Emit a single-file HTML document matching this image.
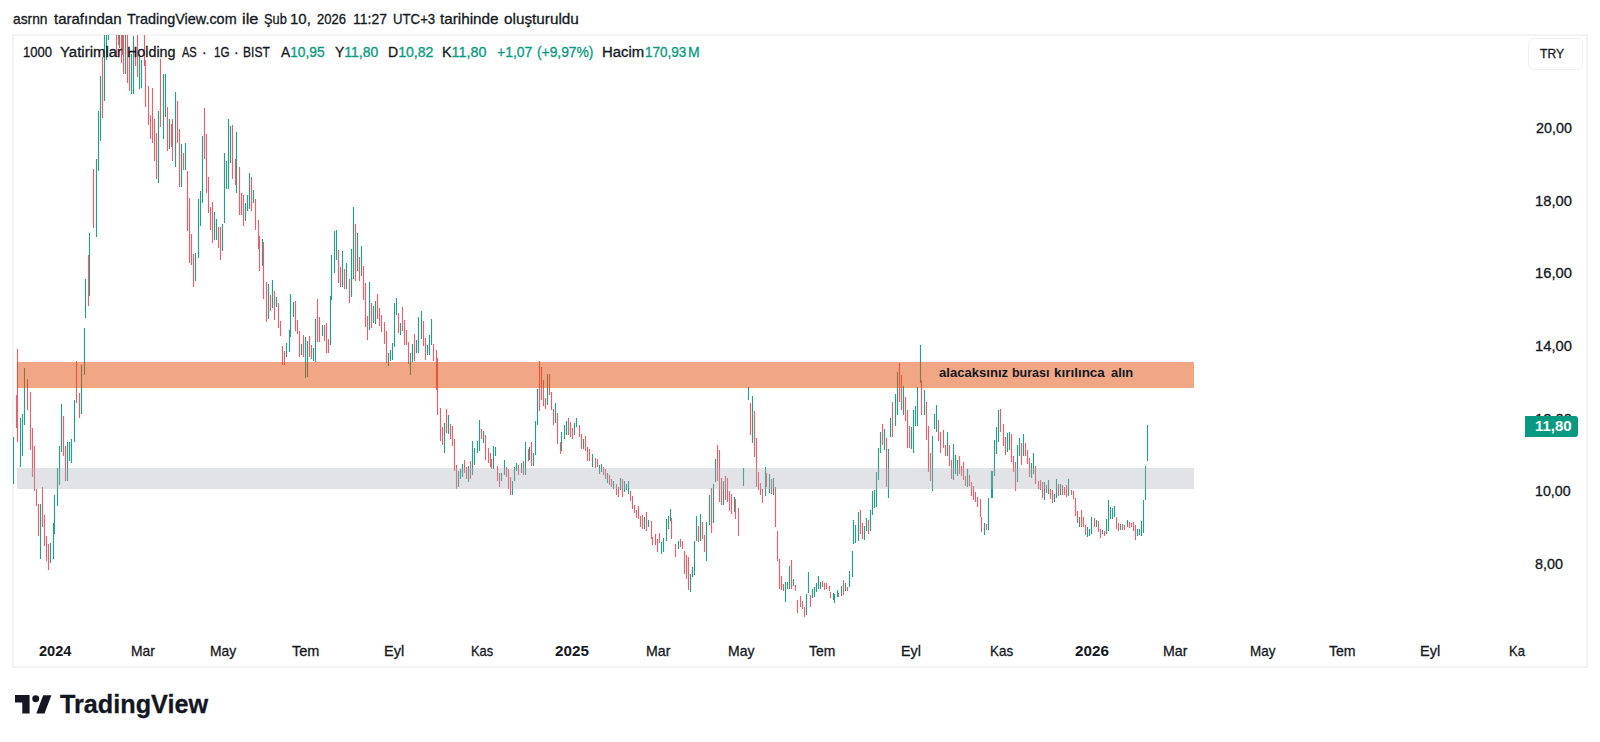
<!DOCTYPE html>
<html><head><meta charset="utf-8">
<style>
html,body{margin:0;padding:0;background:#fff;width:1600px;height:742px;overflow:hidden;}
body{position:relative;font-family:"Liberation Sans",sans-serif;color:#131722;}
.t{position:absolute;white-space:nowrap;line-height:1;-webkit-text-stroke:0.3px currentColor;}
.gr{-webkit-text-stroke:0.3px #089981;}
.gr{color:#089981;}
#box{position:absolute;left:12px;top:34px;width:1572px;height:630px;border:2px solid #f3f3f3;}
svg{position:absolute;left:0;top:0;}
#trybox{position:absolute;left:1528px;top:38px;width:55px;height:32px;border:1px solid #f0f0f0;border-radius:6px;box-sizing:border-box;}
#lbl{position:absolute;left:1525px;top:416px;width:53px;height:21px;background:#089981;border-radius:0 3px 3px 0;}
</style></head><body>
<div id="box"></div>
<svg width="1600" height="742" viewBox="0 0 1600 742">
<defs><clipPath id="cp"><rect x="13" y="35" width="1500" height="595"/></clipPath></defs>
<g clip-path="url(#cp)" stroke-width="1.15">
<path d="M13.5 437V484M20.5 418V467M22.5 414V456M24.5 368V425M40.5 504V559M50.5 543V563M53.5 523V559M54.5 495V534M57.5 468V506M59.5 446V485M61.5 404V452M67.5 442V481M69.5 442V461M71.5 439V463M74.5 400V442M81.5 365V414M84.5 328V375M85.5 279V318M89.5 233V296M96.5 159V237M98.5 111V171M100.5 76V141M104.5 34V101M106.5 10V60M108.5 -10V40M112.5 -15V28M119.5 20V48M125.5 20V74M131.5 54V94M133.5 36V94M139.5 54V89M141.5 60V88M158.5 111V183M163.5 74V139M165.5 74V117M169.5 119V149M175.5 92V167M181.5 144V187M185.5 143V170M195.5 253V281M198.5 199V258M200.5 191V226M202.5 136V203M214.5 212V240M216.5 219V240M222.5 224V251M224.5 153V223M226.5 161V189M228.5 119V189M230.5 126V163M236.5 132V193M245.5 203V221M247.5 195V211M249.5 173V209M253.5 190V203M262.5 239V266M268.5 284V319M272.5 280V308M276.5 297V307M286.5 343V357M289.5 330V352M290.5 294V337M293.5 302V317M301.5 344V355M305.5 337V378M307.5 341V377M313.5 348V361M315.5 319V362M322.5 325V336M330.5 296V345M331.5 255V300M334.5 231V273M336.5 230V260M342.5 251V287M346.5 263V289M351.5 249V297M353.5 207V279M357.5 233V271M361.5 246V276M369.5 282V330M373.5 306V323M375.5 301V324M388.5 353V366M390.5 350V361M392.5 343V360M394.5 303V347M396.5 298V315M400.5 323V335M410.5 353V375M412.5 344V362M416.5 340V353M418.5 317V353M421.5 311V339M427.5 345V355M429.5 335V355M431.5 319V345M444.5 423V453M448.5 415V434M458.5 471V487M460.5 469V479M462.5 464V477M468.5 466V482M472.5 441V475M474.5 448V465M477.5 441V453M479.5 420V451M483.5 431V443M493.5 446V469M495.5 447V456M501.5 473V481M504.5 460V475M512.5 481V495M514.5 467V481M516.5 463V471M521.5 463V473M525.5 442V475M529.5 447V460M533.5 453V466M535.5 421V455M537.5 389V425M547.5 374V405M555.5 403V423M561.5 432V451M564.5 425V439M566.5 421V435M574.5 423V435M576.5 418V427M583.5 439V449M592.5 454V467M599.5 465V474M601.5 464V472M607.5 473V483M613.5 481V489M620.5 478V490M624.5 481V492M626.5 484V490M628.5 481V494M644.5 517V529M648.5 520V527M661.5 542V554M663.5 538V552M666.5 519V541M668.5 516V529M670.5 509V521M678.5 541V549M690.5 574V592M692.5 567V577M694.5 541V575M696.5 516V541M700.5 514V541M706.5 522V561M709.5 495V525M713.5 484V523M715.5 459V482M723.5 481V505M734.5 497V512M743.5 468V486M748.5 387V400M752.5 396V443M765.5 467V496M769.5 474V493M773.5 478V495M785.5 582V602M787.5 582V589M789.5 566V589M793.5 579V586M806.5 594V615M808.5 572V593M812.5 589V598M814.5 587V597M816.5 583V592M818.5 576V589M820.5 582V589M833.5 593V600M834.5 594V603M837.5 590V597M841.5 586V596M845.5 583V591M849.5 571V587M852.5 551V577M853.5 520V544M855.5 525V543M858.5 512V541M864.5 526V540M866.5 518V531M870.5 510V531M872.5 491V515M874.5 490V508M876.5 472V507M878.5 448V480M880.5 432V453M884.5 429V450M888.5 449V498M890.5 418V437M895.5 394V426M897.5 372V415M903.5 386V415M911.5 427V449M913.5 410V453M915.5 406V426M917.5 387V426M920.5 345V383M924.5 390V415M932.5 436V491M934.5 414V429M936.5 405V432M947.5 432V456M953.5 444V480M955.5 455V474M957.5 460V476M967.5 469V487M984.5 523V535M988.5 498V530M991.5 471V498M992.5 471V498M994.5 440V476M996.5 427V454M998.5 410V442M1007.5 433V452M1009.5 432V450M1017.5 445V482M1019.5 438V456M1023.5 434V456M1031.5 463V478M1033.5 453V474M1044.5 482V500M1048.5 480V494M1054.5 494V502M1056.5 479V498M1060.5 484V495M1068.5 479V496M1079.5 517V527M1087.5 527V537M1089.5 529V536M1091.5 517V534M1096.5 520V527M1102.5 530V534M1106.5 519V534M1108.5 500V531M1110.5 507V519M1112.5 508V519M1114.5 506V517M1120.5 524V530M1127.5 520V527M1137.5 529V536M1139.5 529V535M1141.5 521V536M1143.5 500V533M1145.5 466V500M1147.5 425V461" stroke="#2b9c8a" fill="none"/>
<path d="M16.5 395V428M17.5 349V442M27.5 379V410M30.5 392V450M32.5 428V477M34.5 446V491M36.5 489V506M38.5 504V536M42.5 487V527M44.5 515V546M46.5 536V561M48.5 544V570M63.5 416V456M65.5 446V481M76.5 361V403M79.5 393V418M88.5 255V306M93.5 169V228M102.5 57V118M110.5 -20V30M114.5 -5V30M116.5 20V57M118.5 25V45M121.5 25V63M122.5 30V55M123.5 25V74M127.5 25V83M129.5 52V91M135.5 50V66M137.5 25V77M144.5 25V66M145.5 60V107M148.5 86V125M150.5 115V139M152.5 88V143M154.5 119V161M156.5 133V179M160.5 59V127M167.5 107V151M171.5 124V147M172.5 119V161M177.5 101V143M179.5 129V187M183.5 153V170M187.5 171V231M189.5 198V263M191.5 234V265M193.5 254V287M204.5 108V159M206.5 134V193M208.5 177V213M210.5 207V230M212.5 202V243M218.5 227V248M220.5 227V260M232.5 125V179M235.5 159V185M239.5 167V215M241.5 193V215M243.5 195V226M251.5 177V211M255.5 199V230M258.5 220V249M259.5 236V271M263.5 242V299M266.5 282V322M270.5 295V311M274.5 291V320M278.5 303V328M280.5 321V336M282.5 346V365M284.5 351V365M295.5 301V331M297.5 320V334M299.5 331V357M303.5 335V357M309.5 336V357M311.5 345V359M317.5 299V342M319.5 317V342M324.5 325V341M326.5 323V353M328.5 339V353M338.5 250V283M340.5 267V287M344.5 269V289M349.5 279V303M355.5 224V281M359.5 257V281M363.5 266V300M365.5 283V327M367.5 316V340M371.5 303V328M377.5 294V319M379.5 308V326M381.5 315V332M384.5 322V344M386.5 331V363M398.5 313V333M402.5 307V331M404.5 320V345M406.5 330V345M408.5 342V364M414.5 334V361M423.5 321V346M425.5 338V360M433.5 344V361M436.5 350V390M437.5 358V415M440.5 408V441M442.5 427V445M446.5 409V433M450.5 424V439M452.5 426V446M454.5 439V471M456.5 465V489M464.5 460V473M466.5 467V479M470.5 461V479M481.5 429V439M485.5 435V460M488.5 448V463M490.5 453V467M491.5 459V469M497.5 466V481M499.5 473V487M506.5 467V477M508.5 469V489M510.5 477V495M518.5 465V475M523.5 461V475M528.5 449V461M531.5 442V466M539.5 361V411M541.5 367V400M543.5 380V406M545.5 398V409M549.5 374V395M551.5 392V410M553.5 409V425M557.5 413V444M560.5 442V454M568.5 418V435M570.5 422V437M572.5 428V439M579.5 425V437M581.5 434V449M585.5 436V451M587.5 447V461M589.5 449V461M595.5 458V468M597.5 459V467M603.5 467V475M605.5 469V479M609.5 475V485M611.5 479V487M616.5 484V495M618.5 487V497M622.5 479V497M630.5 491V501M632.5 496V509M634.5 505V513M636.5 510V518M638.5 506V519M640.5 516V527M642.5 515V529M646.5 512V531M651.5 521V539M652.5 537V545M655.5 534V545M657.5 539V552M659.5 533V543M671.5 518V539M675.5 544V557M680.5 539V547M682.5 541V549M684.5 551V574M686.5 555V579M688.5 557V590M698.5 526V542M702.5 522V539M704.5 535V552M711.5 488V533M717.5 445V481M719.5 450V502M721.5 478V505M725.5 476V500M727.5 478V502M729.5 491V511M731.5 494V514M735.5 499V519M738.5 508V536M750.5 403V435M754.5 411V457M756.5 438V487M758.5 472V490M760.5 483V495M762.5 489V503M766.5 473V487M771.5 479V494M775.5 487V527M777.5 531V561M779.5 559V589M781.5 576V590M783.5 584V591M791.5 560V589M795.5 585V591M797.5 600V613M800.5 596V607M802.5 601V609M804.5 607V617M810.5 595V607M822.5 581V587M824.5 583V590M826.5 583V589M829.5 586V591M830.5 592V598M838.5 593V597M843.5 580V595M847.5 587V591M860.5 510V534M862.5 523V539M868.5 520V534M882.5 424V445M886.5 438V487M892.5 402V437M899.5 363V402M901.5 375V410M905.5 397V421M907.5 410V448M909.5 426V448M921.5 380V415M926.5 402V440M928.5 426V472M930.5 453V481M938.5 420V441M940.5 432V453M943.5 430V448M945.5 445V456M949.5 445V466M951.5 460V479M959.5 456V474M961.5 466V476M963.5 462V480M965.5 476V486M969.5 475V486M971.5 482V496M973.5 486V500M975.5 492V502M977.5 497V507M980.5 499V517M981.5 517V532M986.5 524V530M1000.5 409V432M1003.5 424V446M1005.5 437V455M1011.5 434V462M1013.5 456V472M1015.5 462V491M1021.5 443V465M1025.5 443V456M1027.5 450V464M1029.5 458V477M1035.5 466V484M1038.5 481V489M1040.5 480V490M1042.5 482V498M1046.5 485V493M1050.5 489V499M1052.5 490V503M1058.5 484V496M1062.5 485V495M1064.5 487V495M1066.5 485V497M1071.5 490V495M1073.5 491V499M1075.5 498V516M1077.5 511V523M1081.5 510V527M1083.5 517V527M1085.5 525V535M1094.5 518V527M1098.5 521V532M1100.5 529V538M1104.5 531V536M1116.5 517V529M1118.5 523V531M1122.5 524V530M1124.5 525V530M1129.5 522V528M1131.5 523V527M1133.5 522V531M1135.5 525V540" stroke="#e0636e" fill="none"/>
</g>
<rect x="17" y="362" width="1177" height="26" fill="rgb(227,79,11)" fill-opacity="0.5"/>
<rect x="17" y="468" width="1177" height="21" fill="rgb(169,175,184)" fill-opacity="0.35"/>
</svg>
<div id="trybox"></div>
<div id="h0" class="t" style="left:12.8px;top:11.0px;font-size:15px;font-weight:normal;color:#131722;transform:scaleX(0.9193);transform-origin:0 0;">asrnn</div>
<div id="h1" class="t" style="left:53.5px;top:11.0px;font-size:15px;font-weight:normal;color:#131722;transform:scaleX(1.0001);transform-origin:0 0;">tarafından</div>
<div id="h2" class="t" style="left:126.5px;top:11.0px;font-size:15px;font-weight:normal;color:#131722;transform:scaleX(0.9597);transform-origin:0 0;">TradingView.com</div>
<div id="h3" class="t" style="left:241.5px;top:11.0px;font-size:15px;font-weight:normal;color:#131722;transform:scaleX(1.0967);transform-origin:0 0;">ile</div>
<div id="h4" class="t" style="left:263.5px;top:11.0px;font-size:15px;font-weight:normal;color:#131722;transform:scaleX(0.8527);transform-origin:0 0;">Şub</div>
<div id="h5" class="t" style="left:290.2px;top:11.0px;font-size:15px;font-weight:normal;color:#131722;transform:scaleX(1.0011);transform-origin:0 0;">10,</div>
<div id="h6" class="t" style="left:316.5px;top:11.0px;font-size:15px;font-weight:normal;color:#131722;transform:scaleX(0.8731);transform-origin:0 0;">2026</div>
<div id="h7" class="t" style="left:352.5px;top:11.0px;font-size:15px;font-weight:normal;color:#131722;transform:scaleX(0.9319);transform-origin:0 0;">11:27</div>
<div id="h8" class="t" style="left:392.5px;top:11.0px;font-size:15px;font-weight:normal;color:#131722;transform:scaleX(0.8800);transform-origin:0 0;">UTC+3</div>
<div id="h9" class="t" style="left:440.0px;top:11.0px;font-size:15px;font-weight:normal;color:#131722;transform:scaleX(1.0177);transform-origin:0 0;">tarihinde</div>
<div id="h10" class="t" style="left:503.8px;top:11.0px;font-size:15px;font-weight:normal;color:#131722;transform:scaleX(1.0192);transform-origin:0 0;">oluşturuldu</div>
<div id="n0" class="t" style="left:23.0px;top:45.0px;font-size:14px;font-weight:normal;color:#131722;transform:scaleX(0.9305);transform-origin:0 0;">1000</div>
<div id="n1" class="t" style="left:59.5px;top:45.0px;font-size:14px;font-weight:normal;color:#131722;transform:scaleX(1.0681);transform-origin:0 0;">Yatirimlar</div>
<div id="n2" class="t" style="left:127.0px;top:45.0px;font-size:14px;font-weight:normal;color:#131722;transform:scaleX(1.0220);transform-origin:0 0;">Holding</div>
<div id="n3" class="t" style="left:182.0px;top:45.0px;font-size:14px;font-weight:normal;color:#131722;transform:scaleX(0.7895);transform-origin:0 0;">AS</div>
<div id="n4" class="t" style="left:202.0px;top:45.0px;font-size:14px;font-weight:normal;color:#131722;transform:scaleX(1.0000);transform-origin:0 0;">·</div>
<div id="n5" class="t" style="left:213.5px;top:45.0px;font-size:14px;font-weight:normal;color:#131722;transform:scaleX(0.8333);transform-origin:0 0;">1G</div>
<div id="n6" class="t" style="left:234.0px;top:45.0px;font-size:14px;font-weight:normal;color:#131722;transform:scaleX(1.0000);transform-origin:0 0;">·</div>
<div id="n7" class="t" style="left:243.0px;top:45.0px;font-size:14px;font-weight:normal;color:#131722;transform:scaleX(0.8607);transform-origin:0 0;">BIST</div>
<div id="lgA" class="t" style="left:280.8px;top:45.0px;font-size:14px;font-weight:normal;color:#131722;transform:scaleX(0.9819);transform-origin:0 0;">A<span class="gr">10,95</span></div>
<div id="lgY" class="t" style="left:335.4px;top:45.0px;font-size:14px;font-weight:normal;color:#131722;transform:scaleX(0.9956);transform-origin:0 0;">Y<span class="gr">11,80</span></div>
<div id="lgD" class="t" style="left:387.8px;top:45.0px;font-size:14px;font-weight:normal;color:#131722;transform:scaleX(1.0047);transform-origin:0 0;">D<span class="gr">10,82</span></div>
<div id="lgK" class="t" style="left:442.0px;top:45.0px;font-size:14px;font-weight:normal;color:#131722;transform:scaleX(1.0241);transform-origin:0 0;">K<span class="gr">11,80</span></div>
<div id="lgc1" class="t" style="left:496.8px;top:45.0px;font-size:14px;font-weight:normal;color:#089981;transform:scaleX(0.9946);transform-origin:0 0;">+1,07</div>
<div id="lgc2" class="t" style="left:537.0px;top:45.0px;font-size:14px;font-weight:normal;color:#089981;transform:scaleX(0.9859);transform-origin:0 0;">(+9,97%)</div>
<div id="lgh1" class="t" style="left:602.0px;top:45.0px;font-size:14px;font-weight:normal;color:#131722;transform:scaleX(1.0640);transform-origin:0 0;">Hacim</div>
<div id="lgh2" class="t" style="left:645.0px;top:45.0px;font-size:14px;font-weight:normal;color:#089981;transform:scaleX(0.9659);transform-origin:0 0;">170,93</div>
<div id="lgh3" class="t" style="left:688.0px;top:45.0px;font-size:14px;font-weight:normal;color:#089981;transform:scaleX(1.0000);transform-origin:0 0;">M</div>
<div id="try" class="t" style="left:1540.0px;top:47.0px;font-size:13px;font-weight:normal;color:#131722;transform:scaleX(0.9313);transform-origin:0 0;">TRY</div>
<div id="p20" class="t" style="left:1536.2px;top:121.0px;font-size:14px;font-weight:normal;color:#131722;transform:scaleX(1.0231);transform-origin:0 0;">20,00</div>
<div id="p18" class="t" style="left:1535.2px;top:194.0px;font-size:14px;font-weight:normal;color:#131722;transform:scaleX(1.0532);transform-origin:0 0;">18,00</div>
<div id="p16" class="t" style="left:1535.2px;top:266.0px;font-size:14px;font-weight:normal;color:#131722;transform:scaleX(1.0532);transform-origin:0 0;">16,00</div>
<div id="p14" class="t" style="left:1535.2px;top:339.0px;font-size:14px;font-weight:normal;color:#131722;transform:scaleX(1.0532);transform-origin:0 0;">14,00</div>
<div id="p12" class="t" style="left:1535.2px;top:412.0px;font-size:14px;font-weight:normal;color:#131722;transform:scaleX(1.0532);transform-origin:0 0;">12,00</div>
<div id="p10" class="t" style="left:1535.2px;top:484.0px;font-size:14px;font-weight:normal;color:#131722;transform:scaleX(1.0177);transform-origin:0 0;">10,00</div>
<div id="p8" class="t" style="left:1535.4px;top:557.0px;font-size:14px;font-weight:normal;color:#131722;transform:scaleX(1.0302);transform-origin:0 0;">8,00</div>
<div id="b0" class="t" style="left:939.0px;top:366.0px;font-size:13.5px;font-weight:bold;color:#131722;transform:scaleX(0.9691);transform-origin:0 0;-webkit-text-stroke:0;">alacaksınız</div>
<div id="b1" class="t" style="left:1012.0px;top:366.0px;font-size:13.5px;font-weight:bold;color:#131722;transform:scaleX(0.9234);transform-origin:0 0;-webkit-text-stroke:0;">burası</div>
<div id="b2" class="t" style="left:1054.0px;top:366.0px;font-size:13.5px;font-weight:bold;color:#131722;transform:scaleX(0.9962);transform-origin:0 0;-webkit-text-stroke:0;">kırılınca</div>
<div id="b3" class="t" style="left:1110.5px;top:366.0px;font-size:13.5px;font-weight:bold;color:#131722;transform:scaleX(0.9565);transform-origin:0 0;-webkit-text-stroke:0;">alın</div>
<div id="logot" class="t" style="left:60.0px;top:692.0px;font-size:25px;font-weight:bold;color:#131722;transform:scaleX(1.0082);transform-origin:0 0;">TradingView</div>
<div id="t2024" class="t" style="left:38.5px;top:644.0px;font-size:14.5px;font-weight:bold;color:#131722;transform:scaleX(1.0065);transform-origin:0 0;-webkit-text-stroke:0;">2024</div>
<div id="tmar1" class="t" style="left:130.5px;top:644.0px;font-size:14.5px;font-weight:normal;color:#131722;transform:scaleX(0.9542);transform-origin:0 0;">Mar</div>
<div id="tmay1" class="t" style="left:210.0px;top:644.0px;font-size:14.5px;font-weight:normal;color:#131722;transform:scaleX(0.9561);transform-origin:0 0;">May</div>
<div id="ttem1" class="t" style="left:292.0px;top:644.0px;font-size:14.5px;font-weight:normal;color:#131722;transform:scaleX(1.0014);transform-origin:0 0;">Tem</div>
<div id="teyl1" class="t" style="left:383.5px;top:644.0px;font-size:14.5px;font-weight:normal;color:#131722;transform:scaleX(1.0015);transform-origin:0 0;">Eyl</div>
<div id="tkas1" class="t" style="left:471.0px;top:644.0px;font-size:14.5px;font-weight:normal;color:#131722;transform:scaleX(0.8888);transform-origin:0 0;">Kas</div>
<div id="t2025" class="t" style="left:555.0px;top:644.0px;font-size:14.5px;font-weight:bold;color:#131722;transform:scaleX(1.0503);transform-origin:0 0;-webkit-text-stroke:0;">2025</div>
<div id="tmar2" class="t" style="left:646.0px;top:644.0px;font-size:14.5px;font-weight:normal;color:#131722;transform:scaleX(0.9756);transform-origin:0 0;">Mar</div>
<div id="tmay2" class="t" style="left:727.5px;top:644.0px;font-size:14.5px;font-weight:normal;color:#131722;transform:scaleX(0.9637);transform-origin:0 0;">May</div>
<div id="ttem2" class="t" style="left:809.0px;top:644.0px;font-size:14.5px;font-weight:normal;color:#131722;transform:scaleX(0.9562);transform-origin:0 0;">Tem</div>
<div id="teyl2" class="t" style="left:901.0px;top:644.0px;font-size:14.5px;font-weight:normal;color:#131722;transform:scaleX(0.9905);transform-origin:0 0;">Eyl</div>
<div id="tkas2" class="t" style="left:990.0px;top:644.0px;font-size:14.5px;font-weight:normal;color:#131722;transform:scaleX(0.9259);transform-origin:0 0;">Kas</div>
<div id="t2026" class="t" style="left:1075.0px;top:644.0px;font-size:14.5px;font-weight:bold;color:#131722;transform:scaleX(1.0503);transform-origin:0 0;-webkit-text-stroke:0;">2026</div>
<div id="tmar3" class="t" style="left:1163.0px;top:644.0px;font-size:14.5px;font-weight:normal;color:#131722;transform:scaleX(0.9773);transform-origin:0 0;">Mar</div>
<div id="tmay3" class="t" style="left:1249.5px;top:644.0px;font-size:14.5px;font-weight:normal;color:#131722;transform:scaleX(0.9259);transform-origin:0 0;">May</div>
<div id="ttem3" class="t" style="left:1328.5px;top:644.0px;font-size:14.5px;font-weight:normal;color:#131722;transform:scaleX(0.9708);transform-origin:0 0;">Tem</div>
<div id="teyl3" class="t" style="left:1420.0px;top:644.0px;font-size:14.5px;font-weight:normal;color:#131722;transform:scaleX(1.0000);transform-origin:0 0;">Eyl</div>
<div id="tka" class="t" style="left:1508.5px;top:644.0px;font-size:14.5px;font-weight:normal;color:#131722;transform:scaleX(0.8929);transform-origin:0 0;">Ka</div>
<div id="lbl"></div>
<div id="lbltxt" class="t" style="left:1535.2px;top:419.0px;font-size:14px;font-weight:bold;color:#ffffff;transform:scaleX(1.0670);transform-origin:0 0;-webkit-text-stroke:0;">11,80</div>
<svg width="60" height="40" viewBox="0 0 60 40" style="left:0;top:680px;">
<path d="M15 15.1H29.6V33.5H22.3V22.5H15Z" fill="#131722"/>
<circle cx="35.7" cy="18.8" r="3.45" fill="#131722"/>
<path d="M43.2 15.3H51.4L44.5 33.5H36.3Z" fill="#131722"/>
</svg>
</body></html>
